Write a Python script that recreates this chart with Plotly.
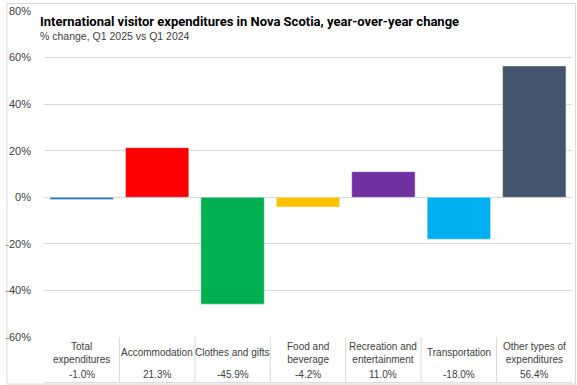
import plotly.graph_objects as go

categories = ["Total<br>expenditures", "Accommodation", "Clothes and gifts", "Food and<br>beverage",
              "Recreation and<br>entertainment", "Transportation", "Other types of<br>expenditures"]
values = [-1.0, 21.3, -45.9, -4.2, 11.0, -18.0, 56.4]
value_labels = ["-1.0%", "21.3%", "-45.9%", "-4.2%", "11.0%", "-18.0%", "56.4%"]
colors = ["#2e75b6", "#ff0000", "#00b050", "#ffc000", "#7030a0", "#00b0f0", "#44546a"]
y_ticks = [-60, -40, -20, 0, 20, 40, 60, 80]

W, H = 577, 385
ml, mr, mt, mb = 38, 5, 8, 48
pw, ph = W - ml - mr, H - mt - mb

x = list(range(len(categories)))
fig = go.Figure(go.Bar(x=x, y=values, marker_color=colors, width=0.84, hoverinfo="skip"))

font_txt = "Liberation Sans, Arial, sans-serif"
ann = []
for i, (c, v) in enumerate(zip(categories, value_labels)):
    ann.append(dict(x=i, xref="x", y=-16 / ph, yref="paper", text=c, showarrow=False,
                    font=dict(size=10, color="#404040", family=font_txt), yanchor="middle"))
    ann.append(dict(x=i, xref="x", y=-38 / ph, yref="paper", text=v, showarrow=False,
                    font=dict(size=10, color="#404040", family=font_txt), yanchor="middle"))
ann.append(dict(x=-6 / pw, xref="paper", y=(H - 19 - mb) / ph, yref="paper", xanchor="left", yanchor="middle",
                text="<b>International visitor expenditures in Nova Scotia, year-over-year change</b>",
                showarrow=False, font=dict(size=13, color="#000000", family="Roboto, sans-serif")))
ann.append(dict(x=-6 / pw, xref="paper", y=(H - 33 - mb) / ph, yref="paper", xanchor="left", yanchor="middle",
                text="% change, Q1 2025 vs Q1 2024", showarrow=False,
                font=dict(size=10.5, color="#404040", family=font_txt)))

shapes = []
bottom = -(mb - 2) / ph
for i in range(len(categories) - 1):
    shapes.append(dict(type="line", xref="x", yref="paper", x0=i + 0.5, x1=i + 0.5, y0=0, y1=bottom,
                       line=dict(color="#d9d9d9", width=1)))
shapes.append(dict(type="line", xref="paper", yref="paper", x0=0, x1=1, y0=bottom, y1=bottom,
                   line=dict(color="#d9d9d9", width=1)))
# outer chart border
shapes.append(dict(type="rect", xref="paper", yref="paper",
                   x0=-(ml - 0.5) / pw, x1=1 + (mr - 1.5) / pw,
                   y0=-(mb - 0.5) / ph, y1=1 + (mt - 0.5) / ph,
                   line=dict(color="#d9d9d9", width=1)))

fig.update_layout(
    width=W, height=H, margin=dict(l=ml, r=mr, t=mt, b=mb),
    plot_bgcolor="white", paper_bgcolor="white", showlegend=False,
    xaxis=dict(range=[-0.5, len(categories) - 0.5], showticklabels=False, showgrid=False,
               zeroline=False, showline=False, ticks=""),
    yaxis=dict(range=[-60, 80], tickvals=y_ticks, ticktext=[f"{t}%" for t in y_ticks],
               showgrid=True, gridcolor="#d9d9d9", gridwidth=1, zeroline=True, zerolinecolor="#d9d9d9",
               zerolinewidth=1, ticklabelstandoff=12,
               tickfont=dict(size=11, color="#404040", family=font_txt)),
    annotations=ann, shapes=shapes,
)
fig.write_html("out.html", config={"displayModeBar": False},
               post_script="document.body.style.margin='0';")
